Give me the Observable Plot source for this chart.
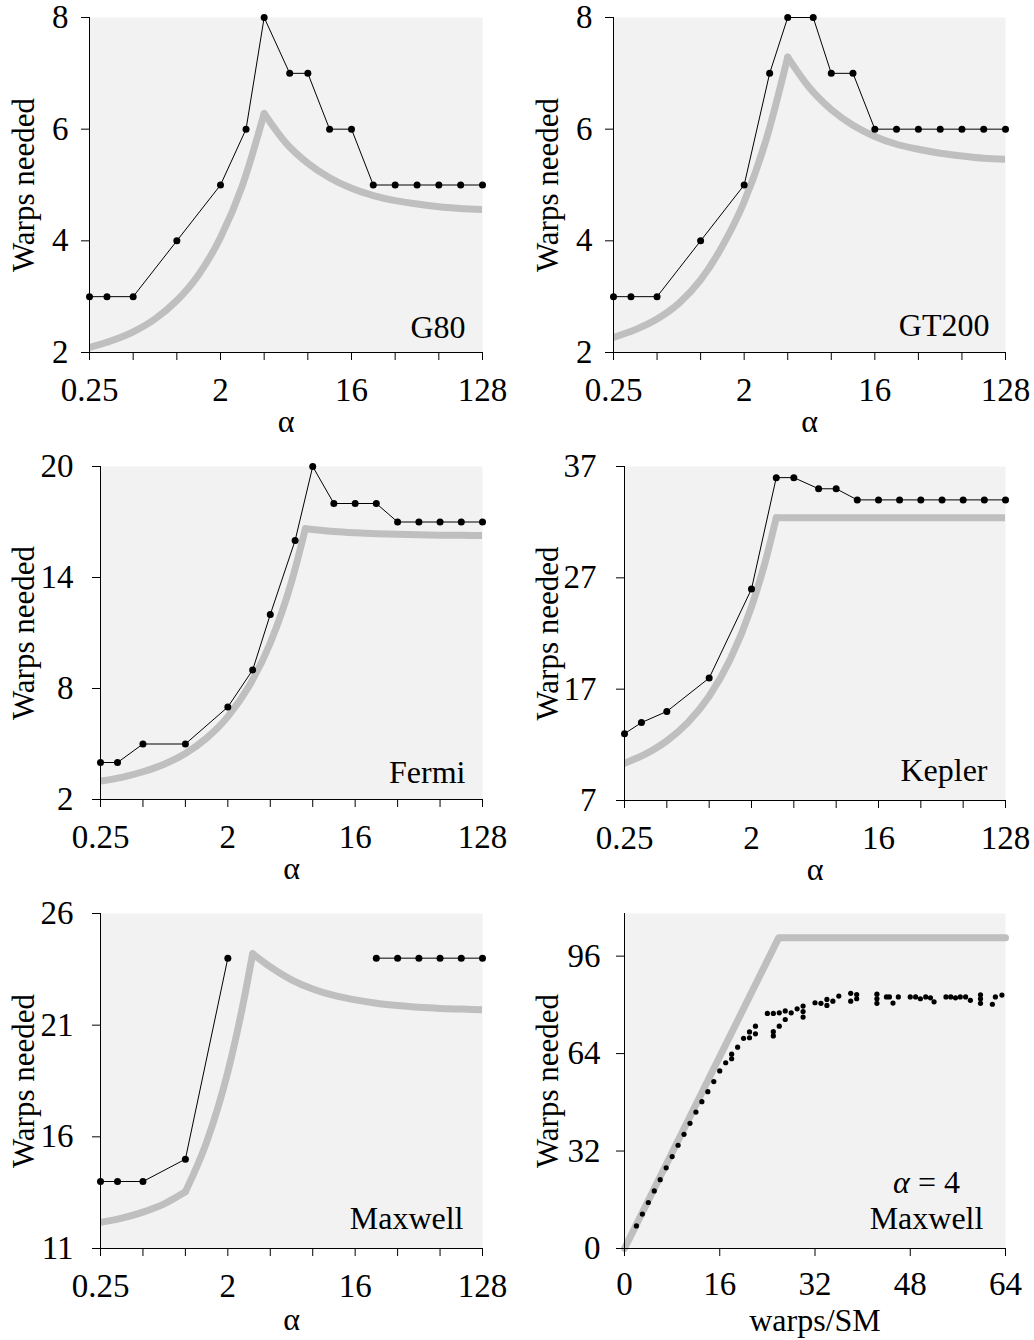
<!DOCTYPE html>
<html>
<head>
<meta charset="utf-8">
<script src="https://cdn.jsdelivr.net/npm/d3@7"></script>
<script src="https://cdn.jsdelivr.net/npm/@observablehq/plot@0.6"></script>
<style>
  body { margin: 0; background: #ffffff; }
  #chart { position: relative; width: 1034px; height: 1340px; background: #ffffff; }
  #chart svg { position: absolute; }
</style>
</head>
<body>
<div id="chart"></div>
<script>
// ---------------- data ----------------
const alphaValues = [0.25, 0.33, 0.5, 1, 2, 3, 4, 6, 8, 11.3, 16, 22.6, 32, 45.3, 64, 90.5, 128];
const xTickValues = [0.25, 0.5, 1, 2, 4, 8, 16, 32, 64, 128];
const xTickLabeled = [0.25, 2, 16, 128];

const g80Warps     = [3, 3, 3, 4, 5, 6, 8, 7, 7, 6, 6, 5, 5, 5, 5, 5, 5];
const gt200Warps   = [3, 3, 3, 4, 5, 7, 8, 8, 7, 7, 6, 6, 6, 6, 6, 6, 6];
const fermiWarps   = [4, 4, 5, 5, 7, 9, 12, 16, 20, 18, 18, 18, 17, 17, 17, 17, 17];
const keplerWarps  = [13, 14, 15, 18, 26, 36, 36, 35, 35, 34, 34, 34, 34, 34, 34, 34, 34];
const maxwellWarps = [14, 14, 14, 15, 24, null, null, null, null, null, null, 24, 24, 24, 24, 24, 24];

// model curves (thick gray)
const g80CurveAlpha = [0.25, 0.354, 0.5, 0.707, 1, 1.41, 2, 2.83, 4, 5.66, 8, 11.3, 16, 22.6, 32, 45.3, 64, 90.5, 128];
const g80CurveWarps = [2.09, 2.21, 2.37, 2.60, 2.93, 3.39, 4.06, 4.99, 6.28, 5.75, 5.39, 5.13, 4.94, 4.81, 4.72, 4.66, 4.61, 4.58, 4.56];
const g80CurveBreaks = [4];

const gt200CurveAlpha = [0.25, 0.354, 0.5, 0.707, 1, 1.41, 2, 2.83, 4, 5.66, 8, 11.3, 16, 22.6, 32, 45.3, 64, 90.5, 128];
const gt200CurveWarps = [2.27, 2.41, 2.60, 2.88, 3.30, 3.90, 4.70, 5.80, 7.29, 6.74, 6.35, 6.07, 5.87, 5.73, 5.64, 5.57, 5.52, 5.48, 5.46];
const gt200CurveBreaks = [4];

const fermiCurveAlpha = [0.25, 0.354, 0.5, 0.707, 1, 1.41, 2, 2.83, 4, 5.66, 7.1, 8, 11.3, 16, 22.6, 32, 45.3, 64, 90.5, 128];
const fermiCurveWarps = [3.00, 3.20, 3.50, 3.91, 4.49, 5.31, 6.48, 8.13, 10.46, 13.77, 16.64, 16.60, 16.49, 16.42, 16.37, 16.34, 16.31, 16.29, 16.28, 16.27];
const fermiCurveBreaks = [7.1];

const keplerCurveAlpha = [0.25, 0.354, 0.5, 0.707, 1, 1.41, 2, 2.5, 3, 4, 8, 16, 32, 64, 128];
const keplerCurveWarps = [10.35, 11.19, 12.36, 14.02, 16.37, 19.66, 24.39, 28.4, 32.4, 32.4, 32.4, 32.4, 32.4, 32.4, 32.4];
const keplerCurveBreaks = [3];

const maxwellCurveAlpha = [0.25, 0.354, 0.5, 0.707, 1, 1.41, 2, 2.5, 3, 4, 5.66, 8, 11.3, 16, 22.6, 32, 45.3, 64, 90.5, 128];
const maxwellCurveWarps = [12.17, 12.36, 12.63, 13.0, 13.54, 15.74, 18.91, 21.6, 24.2, 23.61, 23.03, 22.62, 22.33, 22.13, 21.98, 21.88, 21.80, 21.75, 21.72, 21.69];
const maxwellCurveBreaks = [1, 3];

// panel 6: warps/SM scatter (alpha = 4, Maxwell)
const smX = [2, 3, 4, 5, 6, 7, 8, 9, 10, 11, 12, 13, 14, 15, 16, 17, 18, 18, 19, 20, 21, 21, 22, 22,
             24, 25, 25, 25, 26, 26, 27, 27, 28, 29, 30, 30, 30, 32, 33, 34, 34, 35, 36, 38, 38, 39, 39,
             42.4, 42.4, 42.4, 44, 44.5, 45.1, 46, 48, 48.9, 49.7, 50.6, 51.4, 52, 54, 54.8, 55.6, 56.4,
             57.3, 58.1, 59.8, 59.8, 59.8, 61.8, 62.3, 63.4];
const smY = [7.4, 11.3, 15.1, 18.9, 22.6, 26.5, 30.2, 33.9, 37.5, 41.1, 44.8, 48.2, 51.5, 54.8, 58.3, 61.0, 62.3, 63.8, 66.1, 69.0, 69.2, 71.1, 70.5, 73.0,
             77.2, 69.8, 71.2, 77.2, 73.0, 77.4, 75.2, 78.0, 77.4, 78.7, 76.0, 77.8, 79.6, 80.7, 80.5, 79.8, 81.8, 81.2, 82.9, 81.2, 83.8, 83.4, 82.0,
             80.5, 82.0, 83.5, 82.6, 82.6, 80.6, 82.6, 82.6, 82.6, 82.0, 82.6, 82.3, 81.0, 82.6, 82.6, 82.3, 82.6,
             82.6, 81.5, 80.5, 82.0, 83.3, 80.2, 82.6, 83.2];
const smLineX = [0, 25.9, 64];
const smLineY = [0, 102, 102];

// ---------------- drawing ----------------
const FONT = "'Liberation Serif', 'Times New Roman', serif";
const GRAY = "#bfbfbf";
const BG = "#f2f2f2";
const chart = document.getElementById("chart");

function curveRows(alpha, warps, breaks) {
  const rows = [];
  alpha.forEach((a, i) => {
    const seg = breaks.filter(b => b < a).length;
    rows.push({a, v: warps[i], seg});
    if (breaks.includes(a)) rows.push({a, v: warps[i], seg: seg + 1});
  });
  return rows;
}

function place(svg, left, top) {
  svg.style.left = left + "px";
  svg.style.top = top + "px";
  chart.appendChild(svg);
}

function alphaPanel(c) {
  const pts = alphaValues.map((a, i) => ({a, v: c.warps[i]}));
  const crv = curveRows(c.curveAlpha, c.curveWarps, c.breaks);
  const svg = Plot.plot({
    width: c.w, height: c.h,
    marginLeft: c.ml, marginRight: c.mr, marginTop: c.mt, marginBottom: c.mb,
    style: {fontFamily: FONT, fontSize: "33px", background: "transparent", color: "black", overflow: "visible"},
    x: {type: "log", base: 2, domain: [0.25, 128]},
    y: {domain: c.yDomain},
    marks: [
      Plot.frame({fill: BG, stroke: "none"}),
      Plot.line(crv, {x: "a", y: "v", z: "seg", stroke: GRAY, strokeWidth: 7, curve: "monotone-x", strokeLinecap: "round", clip: true}),
      Plot.line(pts, {x: "a", y: "v", stroke: "black", strokeWidth: 1}),
      Plot.dot(pts, {x: "a", y: "v", r: 3.5, fill: "black", stroke: "none"}),
      Plot.ruleX([0.25], {stroke: "black", strokeWidth: 1}),
      Plot.ruleY([c.yDomain[0]], {stroke: "black", strokeWidth: 1}),
      Plot.axisX({ticks: xTickValues, tickFormat: d => xTickLabeled.includes(d) ? String(d) : "", tickSize: 8, tickPadding: 17, label: null}),
      Plot.axisY({ticks: c.yTicks, tickFormat: d => String(d), tickSize: 8, tickPadding: c.ypad, label: null}),
      Plot.text(["α"], {text: d => d, frameAnchor: "bottom", lineAnchor: "bottom", dy: c.ady, fontSize: 32}),
      Plot.text(["Warps needed"], {text: d => d, frameAnchor: "left", rotate: -90, textAnchor: "middle", lineAnchor: "bottom", dx: -c.ylab, fontSize: 31}),
      Plot.text([c.name], {text: d => d, frameAnchor: "bottom-right", textAnchor: "end", lineAnchor: "bottom", dx: c.ndx, dy: c.ndy, fontSize: 32})
    ]
  });
  place(svg, c.left, c.top);
}

alphaPanel({left: 0, top: 0, w: 517, h: 440, ml: 89, mr: 35, mt: 17, mb: 88,
  yDomain: [2, 8], yTicks: [2, 4, 6, 8], warps: g80Warps, ypad: 13, ady: 79,
  curveAlpha: g80CurveAlpha, curveWarps: g80CurveWarps, breaks: g80CurveBreaks,
  name: "G80", ndx: -17, ndy: -15, ylab: 56});

alphaPanel({left: 517, top: 0, w: 517, h: 440, ml: 96, mr: 29, mt: 17, mb: 88,
  yDomain: [2, 8], yTicks: [2, 4, 6, 8], warps: gt200Warps, ypad: 13, ady: 79,
  curveAlpha: gt200CurveAlpha, curveWarps: gt200CurveWarps, breaks: gt200CurveBreaks,
  name: "GT200", ndx: -16, ndy: -17, ylab: 56});

alphaPanel({left: 0, top: 440, w: 517, h: 440, ml: 100, mr: 35, mt: 26, mb: 81,
  yDomain: [2, 20], yTicks: [2, 8, 14, 20], warps: fermiWarps, ypad: 19, ady: 79,
  curveAlpha: fermiCurveAlpha, curveWarps: fermiCurveWarps, breaks: fermiCurveBreaks,
  name: "Fermi", ndx: -17, ndy: -17, ylab: 67});

alphaPanel({left: 517, top: 440, w: 517, h: 440, ml: 107, mr: 29, mt: 26, mb: 80,
  yDomain: [7, 37], yTicks: [7, 17, 27, 37], warps: keplerWarps, ypad: 20, ady: 79,
  curveAlpha: keplerCurveAlpha, curveWarps: keplerCurveWarps, breaks: keplerCurveBreaks,
  name: "Kepler", ndx: -18, ndy: -20, ylab: 67});

alphaPanel({left: 0, top: 890, w: 517, h: 450, ml: 100, mr: 35, mt: 23, mb: 92,
  yDomain: [11, 26], yTicks: [11, 16, 21, 26], warps: maxwellWarps, ypad: 19, ady: 81,
  curveAlpha: maxwellCurveAlpha, curveWarps: maxwellCurveWarps, breaks: maxwellCurveBreaks,
  name: "Maxwell", ndx: -19, ndy: -20, ylab: 67});

// panel 6
(function () {
  const pts = smX.map((x, i) => ({x, y: smY[i]}));
  const ln = smLineX.map((x, i) => ({x, y: smLineY[i]}));
  const svg = Plot.plot({
    width: 517, height: 450,
    marginLeft: 107, marginRight: 29, marginTop: 23, marginBottom: 92,
    style: {fontFamily: FONT, fontSize: "33px", background: "transparent", color: "black", overflow: "visible"},
    x: {domain: [0, 64]},
    y: {domain: [0, 110]},
    marks: [
      Plot.frame({fill: BG, stroke: "none"}),
      Plot.line(ln, {x: "x", y: "y", stroke: GRAY, strokeWidth: 7, strokeLinecap: "round"}),
      Plot.dot(pts, {x: "x", y: "y", r: 2.6, fill: "black", stroke: "none"}),
      Plot.ruleX([0], {stroke: "black", strokeWidth: 1}),
      Plot.ruleY([0], {stroke: "black", strokeWidth: 1}),
      Plot.axisX({ticks: [0, 16, 32, 48, 64], tickFormat: d => String(d), tickSize: 8, tickPadding: 15, label: null}),
      Plot.axisY({ticks: [0, 32, 64, 96], tickFormat: d => String(d), tickSize: 8, tickPadding: 16, label: null}),
      Plot.text(["warps/SM"], {text: d => d, frameAnchor: "bottom", lineAnchor: "bottom", dy: 82, fontSize: 32}),
      Plot.text(["Warps needed"], {text: d => d, frameAnchor: "left", rotate: -90, textAnchor: "middle", lineAnchor: "bottom", dx: -67, fontSize: 31}),
      Plot.text(["α = 4"], {text: d => d, frameAnchor: "bottom-right", textAnchor: "middle", lineAnchor: "bottom", dx: -79, dy: -56, fontSize: 32}),
      Plot.text(["Maxwell"], {text: d => d, frameAnchor: "bottom-right", textAnchor: "middle", lineAnchor: "bottom", dx: -79, dy: -20, fontSize: 32})
    ]
  });
  svg.querySelectorAll("text").forEach(t => {
    if (t.textContent === "α = 4") {
      t.textContent = "";
      const ns = "http://www.w3.org/2000/svg";
      const a = document.createElementNS(ns, "tspan");
      a.setAttribute("font-style", "italic");
      a.textContent = "α";
      const b = document.createElementNS(ns, "tspan");
      b.textContent = " = 4";
      t.appendChild(a);
      t.appendChild(b);
    }
  });
  place(svg, 517, 890);
})();
</script>
</body>
</html>
